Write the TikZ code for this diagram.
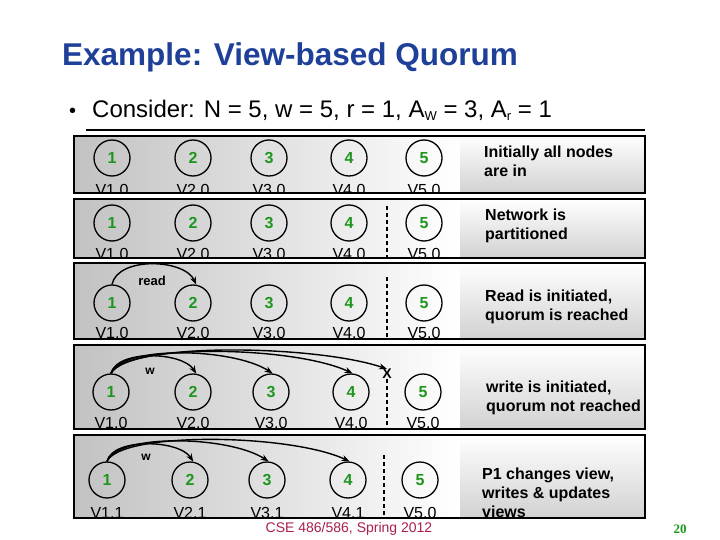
\documentclass[tikz,border=0pt]{standalone}
\usepackage{fontspec}
\setmainfont{Liberation Sans}
\newfontfamily\serifbold{Liberation Serif}
\usetikzlibrary{arrows.meta}
\definecolor{titleblue}{RGB}{31,64,153}
\definecolor{numgreen}{RGB}{30,150,30}
\definecolor{footred}{RGB}{170,30,80}
\begin{document}
\begin{tikzpicture}[x=1pt,y=-1pt,
  leftshade/.style={left color=black!24, right color=white},
  rightshade/.style={top color=white, bottom color=black!18},
  pnode/.style={circle, draw=black, line width=1.3pt, minimum size=36pt, inner sep=0pt,
    font=\fontsize{16}{16}\selectfont\bfseries, text=numgreen},
  vlab/.style={anchor=base, inner sep=0pt, font=\fontsize{16}{16}\selectfont},
  desc/.style={anchor=north west, inner sep=0pt, align=left,
    font=\fontsize{16}{19}\selectfont\bfseries},
  arc/.style={line width=1.4pt, -{Stealth[length=8pt,width=6pt]}},
  part/.style={dash pattern=on 4pt off 3pt, line width=1.2pt},
  border/.style={draw=black, line width=1.6pt}
]
\useasboundingbox (0,0) rectangle (720,540);
\fill[white] (0,0) rectangle (720,540);

% title and bullet
\node[anchor=base west, inner sep=0pt, text=titleblue,
  font=\fontsize{31.5}{32}\selectfont\bfseries] (title) at (62,66) {Example: View-based Quorum};
\node[anchor=base west, inner sep=0pt, font=\fontsize{20}{20}\selectfont] (bul) at (69,118) {\textbullet};
\node[anchor=base west, inner sep=0pt, font=\fontsize{24}{24}\selectfont] (cons) at (92,118)
  {Consider: N = 5, w = 5, r = 1, A\raisebox{-3pt}{\fontsize{13}{13}\selectfont W} = 3, A\raisebox{-3pt}{\fontsize{13}{13}\selectfont r} = 1};
\draw[line width=2.6pt] (86,130) coordinate (ul1) -- (645,130) coordinate (ul2);

% row boxes (fill)
\foreach \t/\b in {136/193,199/258,263/339,345/429,435/518}{
  \shade[leftshade] (74,\t) rectangle (460,\b);
  \shade[rightshade] (460,\t) rectangle (645,\b);
}

% ---- row 1
\begin{scope}
\clip (74,136) rectangle (645,193);
\foreach \i/\x in {1/112,2/193,3/269,4/349,5/424}{
  \node[pnode] (a\i) at (\x,158) {\i};
  \node[vlab] (al\i) at (\x,196) {V\i.0};
}
\end{scope}
\node[desc] (d1) at (484,146) {Initially all nodes\\are in};

% ---- row 2
\begin{scope}
\clip (74,199) rectangle (645,258);
\foreach \i/\x in {1/112,2/193,3/269,4/349,5/424}{
  \node[pnode] (b\i) at (\x,223) {\i};
  \node[vlab] (bl\i) at (\x,259) {V\i.0};
}
\coordinate (bp1) at (387,206);
\coordinate (bp2) at (387,258);
\draw[part] (bp1) -- (bp2);
\end{scope}
\node[desc] (d2) at (485,209) {Network is\\partitioned};

% ---- row 3
\begin{scope}
\clip (74,263) rectangle (645,339);
\foreach \i/\x in {1/112,2/193,3/269,4/349,5/424}{
  \node[pnode] (c\i) at (\x,303) {\i};
  \node[vlab] (cl\i) at (\x,338) {V\i.0};
}
\coordinate (cp1) at (387,277);
\coordinate (cp2) at (387,339);
\draw[part] (cp1) -- (cp2);
\end{scope}
\draw[arc] (c1.north) .. controls +(6,-28) and +(-12,-26) .. (c2.80);
\node[inner sep=0pt, font=\fontsize{13}{13}\selectfont\bfseries] (rd) at (152,281) {read};
\node[desc] (d3) at (485,290) {Read is initiated,\\quorum is reached};

% ---- row 4
\begin{scope}
\clip (74,345) rectangle (645,429);
\foreach \i/\x in {1/111,2/193,3/271,4/351,5/423}{
  \node[pnode] (e\i) at (\x,392) {\i};
  \node[vlab] (el\i) at (\x,428) {V\i.0};
}
\node[inner sep=0pt, font=\fontsize{14}{14}\selectfont\bfseries] (xx) at (387,374) {X};
\coordinate (ep2) at (387,429);
\draw[part] (xx.south) -- (ep2);
\end{scope}
\draw[arc] (e1.north) .. controls +(6,-24) and +(-14,-22) .. (e2.80);
\draw[arc] (e1.north) .. controls +(10,-28) and +(-40,-26) .. (e3.85);
\draw[arc] (e1.north) .. controls +(14,-30) and +(-60,-28) .. (e4.85);
\draw[arc] (e1.north) .. controls +(18,-32) and +(-70,-24) .. (xx.north);
\node[inner sep=0pt, font=\fontsize{12}{12}\selectfont\bfseries] (w4) at (150,371) {w};
\node[desc] (d4) at (486,381) {write is initiated,\\quorum not reached};

% ---- row 5
\begin{scope}
\clip (74,435) rectangle (645,518);
\foreach \i/\x/\v in {1/107/1,2/190/1,3/267/1,4/348/1,5/420/0}{
  \node[pnode] (f\i) at (\x,480) {\i};
  \node[vlab] (fl\i) at (\x,518) {V\i.\v};
}
\coordinate (fp1) at (384,455);
\coordinate (fp2) at (384,518);
\draw[part] (fp1) -- (fp2);
\end{scope}
\draw[arc] (f1.north) .. controls +(6,-24) and +(-14,-22) .. (f2.80);
\draw[arc] (f1.north) .. controls +(10,-28) and +(-40,-26) .. (f3.85);
\draw[arc] (f1.north) .. controls +(14,-30) and +(-60,-28) .. (f4.85);
\node[inner sep=0pt, font=\fontsize{12}{12}\selectfont\bfseries] (w5) at (146,457) {w};
\begin{scope}
\clip (74,435) rectangle (645,518);
\node[desc] (d5) at (482,468) {P1 changes view,\\writes \& updates\\views};
\end{scope}

% row borders
\foreach \t/\b in {136/193,199/258,263/339,345/429,435/518}{
  \draw[border] (74,\t) rectangle (645,\b);
}

% footer
\node[anchor=base, inner sep=0pt, text=footred, font=\fontsize{14}{14}\selectfont] (foot) at (349,532) {CSE 486/586, Spring 2012};
\node[anchor=base, inner sep=0pt, text=numgreen, font=\serifbold\fontsize{13}{13}\selectfont\bfseries] (pg) at (680,533) {20};
\end{tikzpicture}
\end{document}
